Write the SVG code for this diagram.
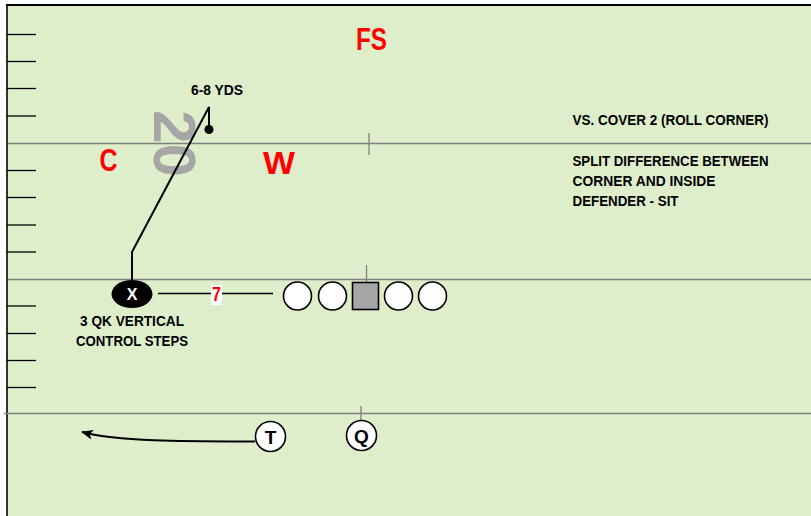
<svg xmlns="http://www.w3.org/2000/svg" width="811" height="516" viewBox="0 0 811 516">
<defs>
<style>
.lbl{font-family:"Liberation Sans",Arial,sans-serif;font-weight:bold;fill:#000}
.def{font-family:"Liberation Sans",Arial,sans-serif;font-weight:bold;fill:#FF0000}
.yard{stroke:#808080;stroke-width:1.3;fill:none}
.hash{stroke:#000;stroke-width:1.3}
.pl{fill:#fff;stroke:#000;stroke-width:1.6}
.route{stroke:#000;stroke-width:2;fill:none}
</style>
<marker id="ah" viewBox="0 0 12 10" refX="11" refY="5" markerWidth="12" markerHeight="10" markerUnits="userSpaceOnUse" orient="auto">
<path d="M0,0 L12,5 L0,10 L3,5 Z" fill="#000"/>
</marker>
</defs>
<rect x="0" y="0" width="811" height="516" fill="#fff"/>
<rect x="7" y="5" width="804" height="511" fill="#DEEECB"/>
<g id="field">
<line x1="6" y1="5" x2="811" y2="5" stroke="#000" stroke-width="2"/>
<line x1="7" y1="5" x2="7" y2="516" stroke="#000" stroke-width="1.6"/>
<line class="yard" x1="8" y1="143.5" x2="811" y2="143.5"/>
<line class="yard" x1="8" y1="279.5" x2="811" y2="279.5"/>
<line class="yard" x1="4" y1="413.5" x2="811" y2="413.5"/>
<line class="yard" x1="369" y1="133" x2="369" y2="155"/>
<line class="yard" x1="366.5" y1="265" x2="366.5" y2="282"/>
<line class="yard" x1="361" y1="406" x2="361" y2="421"/>
<g class="hash">
<line x1="7" y1="34.5" x2="36" y2="34.5"/>
<line x1="7" y1="61.5" x2="36" y2="61.5"/>
<line x1="7" y1="88.5" x2="36" y2="88.5"/>
<line x1="7" y1="116" x2="36" y2="116"/>
<line x1="7" y1="170.5" x2="36" y2="170.5"/>
<line x1="7" y1="197.5" x2="36" y2="197.5"/>
<line x1="7" y1="225" x2="36" y2="225"/>
<line x1="7" y1="252" x2="36" y2="252"/>
<line x1="7" y1="306" x2="36" y2="306"/>
<line x1="7" y1="333.5" x2="36" y2="333.5"/>
<line x1="7" y1="360.5" x2="36" y2="360.5"/>
<line x1="7" y1="387.5" x2="36" y2="387.5"/>
</g>
<text x="175" y="165" transform="rotate(90 175 143.5)" text-anchor="middle" font-family="Liberation Sans,Arial,sans-serif" font-weight="bold" font-size="60" fill="#A6A6A6">20</text>
</g>
<g id="connectors">
<path class="route" d="M132,280 L132,252 L209,107 L209,129"/>
<circle cx="209" cy="129.5" r="4.5" fill="#000"/>
<line x1="158" y1="293.5" x2="273" y2="293.5" stroke="#000" stroke-width="1.4"/>
<path class="route" d="M255,441.5 C190,441.5 120,442 82,432" marker-end="url(#ah)"/>
</g>
<g id="label-7">
<rect x="211" y="285" width="11" height="20" fill="#fff"/>
<text class="def" x="216.5" y="300.5" text-anchor="middle" font-size="20" textLength="9" lengthAdjust="spacingAndGlyphs">7</text>
</g>
<g id="node-X">
<ellipse cx="132" cy="294" rx="20.5" ry="14" fill="#000"/>
<text x="132" y="300" text-anchor="middle" font-family="Liberation Sans,Arial,sans-serif" font-weight="bold" font-size="16" fill="#fff">X</text>
</g>
<g id="ol">
<circle class="pl" cx="297.5" cy="296" r="14"/>
<circle class="pl" cx="332.5" cy="296" r="14"/>
<rect x="352.5" y="282.5" width="26" height="27" fill="#A6A6A6" stroke="#000" stroke-width="1.6"/>
<circle class="pl" cx="398.5" cy="296" r="14"/>
<circle class="pl" cx="432.5" cy="296" r="14"/>
</g>
<g id="node-T">
<circle class="pl" cx="270.5" cy="436.5" r="15"/>
<text class="lbl" x="270.5" y="443.5" text-anchor="middle" font-size="19">T</text>
</g>
<g id="node-Q">
<circle class="pl" cx="361.5" cy="435.5" r="15"/>
<text class="lbl" x="361.5" y="442.5" text-anchor="middle" font-size="19">Q</text>
</g>
<g id="def-FS"><text class="def" x="371.5" y="50" text-anchor="middle" font-size="32" textLength="31" lengthAdjust="spacingAndGlyphs">FS</text></g>
<g id="def-C"><text class="def" x="108.5" y="171" text-anchor="middle" font-size="31" textLength="18" lengthAdjust="spacingAndGlyphs">C</text></g>
<g id="def-W"><text class="def" x="279" y="173.5" text-anchor="middle" font-size="31" textLength="32" lengthAdjust="spacingAndGlyphs">W</text></g>
<g id="labels">
<text class="lbl" x="217" y="95" text-anchor="middle" font-size="14" textLength="52" lengthAdjust="spacingAndGlyphs">6-8 YDS</text>
<text class="lbl" x="132" y="325.5" text-anchor="middle" font-size="14" textLength="104" lengthAdjust="spacingAndGlyphs">3 QK VERTICAL</text>
<text class="lbl" x="132" y="345.5" text-anchor="middle" font-size="14" textLength="112" lengthAdjust="spacingAndGlyphs">CONTROL STEPS</text>
<text class="lbl" x="572.5" y="125" font-size="14" textLength="196" lengthAdjust="spacingAndGlyphs">VS. COVER 2 (ROLL CORNER)</text>
<text class="lbl" x="572.5" y="165.5" font-size="14" textLength="196" lengthAdjust="spacingAndGlyphs">SPLIT DIFFERENCE BETWEEN</text>
<text class="lbl" x="572.5" y="185.5" font-size="14" textLength="143" lengthAdjust="spacingAndGlyphs">CORNER AND INSIDE</text>
<text class="lbl" x="572.5" y="205.5" font-size="14" textLength="106" lengthAdjust="spacingAndGlyphs">DEFENDER - SIT</text>
</g>
</svg>
